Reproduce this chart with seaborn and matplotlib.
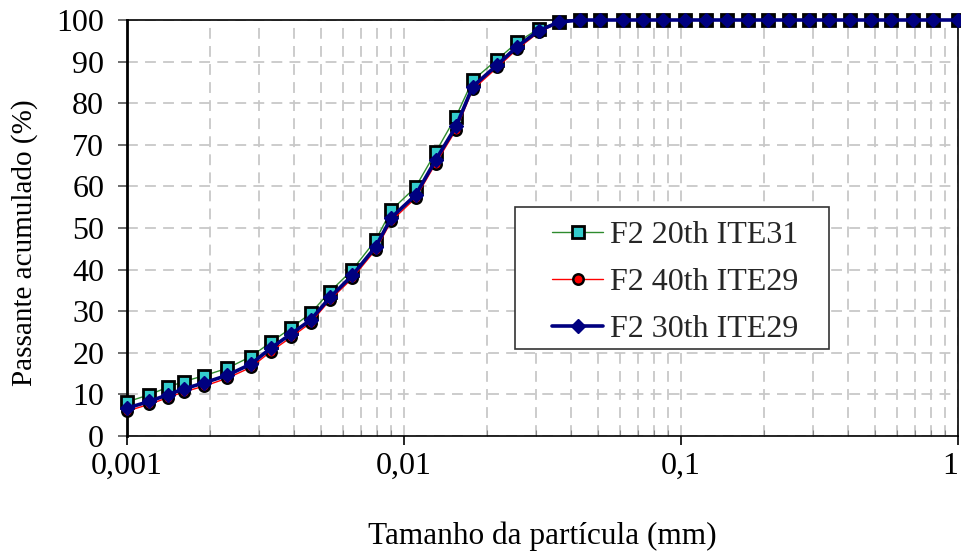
import matplotlib
matplotlib.use("Agg")
import matplotlib.pyplot as plt
from matplotlib.patches import Rectangle
from matplotlib.ticker import FixedLocator, LogLocator, NullFormatter, FixedFormatter
import seaborn as sns

# Particle size classes (mm)
tamanho_mm = [
    0.00100, 0.00120, 0.00140, 0.00160, 0.00190, 0.00230, 0.00280, 0.00330,
    0.00390, 0.00460, 0.00540, 0.00650, 0.00790, 0.00900, 0.01100, 0.01300,
    0.01540, 0.01770, 0.02170, 0.02560, 0.03060, 0.03620, 0.04330, 0.05110,
    0.06150, 0.07270, 0.08620, 0.10300, 0.12300, 0.14700, 0.17400, 0.20600,
    0.24500, 0.29000, 0.34300, 0.40700, 0.48500, 0.57500, 0.68900, 0.81300,
    1.00000,
]

# Cumulative passing (%) for each sample
f2_20th_ite31 = [
    8.2, 9.9, 11.7, 13.1, 14.5, 16.3, 19.1, 22.5, 25.9, 29.5, 34.7, 39.9,
    47.1, 54.3, 59.8, 68.2, 76.8, 85.5, 90.5, 94.6, 97.9, 99.5,
] + [100.0] * 19

f2_40th_ite29 = [
    6.0, 7.6, 9.2, 10.6, 12.0, 13.9, 16.5, 20.3, 23.7, 27.2, 32.7, 37.9,
    44.8, 51.7, 57.2, 65.5, 73.6, 83.3, 88.6, 93.0, 97.0, 99.4,
] + [100.0] * 19

f2_30th_ite29 = [
    6.7, 8.3, 9.9, 11.3, 12.8, 14.6, 17.3, 21.1, 24.5, 27.9, 33.3, 38.6,
    45.5, 52.5, 57.9, 66.3, 74.4, 84.0, 89.2, 93.6, 97.4, 99.5,
] + [100.0] * 19

series_labels = ["F2 20th ITE31", "F2 40th ITE29", "F2 30th ITE29"]
x_tick_values = [0.001, 0.01, 0.1, 1]
x_tick_labels = ["0,001", "0,01", "0,1", "1"]
y_ticks = list(range(0, 101, 10))

sns.set_theme(style="white")
plt.rcParams["font.family"] = ["Liberation Serif", "DejaVu Serif"]

fig = plt.figure(figsize=(9.61, 5.57), dpi=100)
ax = fig.add_axes([0.1322, 0.2172, 0.8647, 0.7469])

styles = [
    dict(color="#2e8b2e", lw=1.0, marker="s", ms=8.5, mfc="#33CCCC",
         mec="black", mew=2.0),
    dict(color="#ff0000", lw=1.0, marker="o", ms=7.5, mfc="#ff0000",
         mec="black", mew=1.8),
    dict(color="#000080", lw=2.6, marker="D", ms=7.5, mfc="#000080",
         mec="#000080", mew=1.0),
]
for ys, label, st in zip([f2_20th_ite31, f2_40th_ite29, f2_30th_ite29],
                         series_labels, styles):
    sns.lineplot(x=tamanho_mm, y=ys, ax=ax, label=label, clip_on=False,
                 zorder=3, **st)

ax.set_xscale("log")
ax.set_xlim(0.001, 1)
ax.set_ylim(0, 100)

ax.xaxis.set_major_locator(FixedLocator(x_tick_values))
ax.xaxis.set_major_formatter(FixedFormatter(x_tick_labels))
ax.xaxis.set_minor_locator(LogLocator(base=10, subs=range(2, 10)))
ax.xaxis.set_minor_formatter(NullFormatter())
ax.set_yticks(y_ticks)

grid_kw = dict(color="#c8c8c8", lw=1.3, linestyle=(0, (6, 4)))
ax.grid(True, which="major", axis="both", **grid_kw)
ax.grid(True, which="minor", axis="x", **grid_kw)
ax.set_axisbelow(True)

for side in ["top", "right", "bottom"]:
    ax.spines[side].set_color("black")
    ax.spines[side].set_linewidth(1.2)
ax.spines["left"].set_color("black")
ax.spines["left"].set_linewidth(2.0)

ax.tick_params(axis="both", which="major", labelsize=23, colors="black",
               length=6.5, width=1.2, direction="out")
ax.tick_params(axis="x", which="major", pad=5)
ax.tick_params(axis="y", which="major", pad=10, color="#555555")
ax.tick_params(axis="x", which="minor", length=4, width=0.8,
               direction="in", color="#888888")
ax.tick_params(bottom=True, left=True, which="both")
ax.tick_params(axis="y", which="minor", left=False)

# right-align the last x label so it stays on the canvas
fig.canvas.draw()
ax.xaxis.get_major_ticks()[-1].label1.set_horizontalalignment("right")

ax.set_xlabel("Tamanho da partícula (mm)", fontsize=22.5, labelpad=29,
              color="black")
ax.set_ylabel("Passante acumulado (%)", fontsize=21, color="black")
ax.yaxis.set_label_coords(-0.107, 0.465)

# legend entries without their own frame, boxed by a plain rectangle
leg = ax.legend(loc="upper left", bbox_to_anchor=(0.5114, 0.518),
                borderaxespad=0, borderpad=0, fontsize=23, frameon=False,
                handlelength=1.6, handletextpad=0.2, labelspacing=0.55)
ax.add_patch(Rectangle((0.467, 0.209), 0.378, 0.341, transform=ax.transAxes,
                       facecolor="white", edgecolor="#333333", lw=1.2,
                       zorder=4))
leg.set_zorder(5)

fig.savefig("out.png", dpi=100, facecolor="white")
